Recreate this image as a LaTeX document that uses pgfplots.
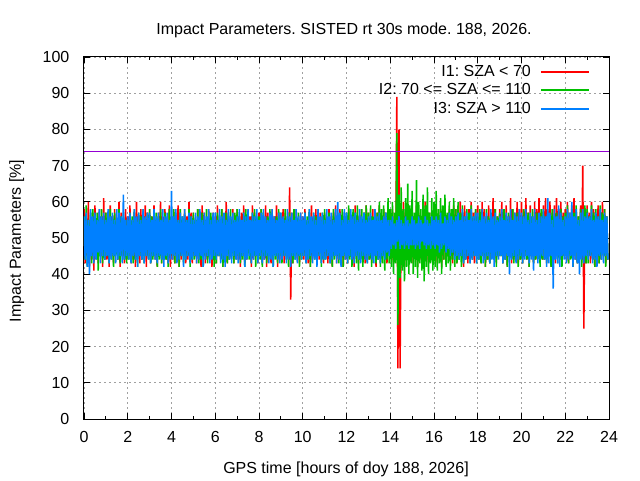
\documentclass[border=0pt]{standalone}
\usepackage{fontspec}
\setmainfont{Liberation Sans}
\usepackage{pgfplots}
\usepackage{pgfplotstable}
\pgfplotsset{compat=1.18}
\definecolor{gpred}{RGB}{255,0,0}
\definecolor{gpgreen}{RGB}{0,192,0}
\definecolor{gpblue}{RGB}{0,128,255}
\definecolor{gpviolet}{RGB}{148,0,211}
\definecolor{gpgrid}{RGB}{160,160,160}

\pgfplotstableread[row sep=\\]{y\\
58\\43\\56\\45\\60\\42\\55\\44\\57\\41\\59\\46\\54\\43\\58\\45\\56\\42\\61\\44\\
57\\44\\55\\42\\59\\45\\56\\43\\58\\46\\55\\44\\60\\42\\57\\45\\54\\43\\58\\44\\
56\\45\\59\\43\\55\\44\\57\\42\\60\\45\\56\\43\\58\\44\\55\\46\\59\\42\\57\\45\\
58\\43\\56\\45\\59\\44\\55\\42\\57\\46\\60\\43\\56\\45\\58\\44\\55\\43\\59\\42\\
55\\44\\58\\43\\56\\45\\59\\42\\57\\44\\55\\46\\58\\43\\56\\44\\60\\45\\57\\43\\
57\\45\\55\\43\\58\\44\\56\\42\\59\\45\\57\\43\\55\\44\\58\\46\\56\\42\\57\\44\\
56\\43\\59\\45\\55\\44\\58\\42\\56\\45\\60\\43\\57\\44\\55\\46\\58\\43\\56\\45\\
58\\44\\56\\42\\57\\45\\59\\43\\55\\44\\58\\46\\56\\42\\59\\44\\57\\45\\55\\43\\
57\\45\\58\\43\\56\\44\\59\\42\\57\\45\\55\\43\\58\\44\\56\\46\\59\\42\\57\\44\\
56\\44\\58\\43\\57\\45\\55\\44\\64\\33\\57\\43\\56\\45\\58\\44\\55\\43\\57\\45\\
56\\44\\58\\45\\55\\43\\57\\42\\59\\44\\56\\45\\58\\43\\55\\44\\57\\46\\56\\43\\
57\\45\\55\\43\\58\\44\\56\\42\\57\\45\\59\\43\\56\\44\\58\\45\\55\\42\\57\\44\\
56\\43\\58\\45\\55\\44\\57\\42\\59\\45\\56\\43\\58\\44\\55\\46\\57\\43\\59\\44\\
57\\44\\55\\43\\58\\45\\56\\42\\57\\44\\59\\43\\56\\45\\58\\44\\57\\43\\55\\45\\
57\\44\\58\\43\\56\\44\\89\\14\\80\\14\\58\\43\\60\\42\\57\\45\\59\\43\\56\\44\\
58\\43\\56\\45\\59\\42\\57\\44\\55\\43\\58\\45\\60\\44\\56\\43\\57\\45\\55\\44\\
57\\44\\59\\43\\56\\45\\58\\42\\57\\44\\60\\43\\56\\45\\58\\44\\57\\43\\59\\45\\
58\\43\\56\\44\\60\\45\\57\\42\\59\\44\\56\\43\\58\\45\\60\\44\\57\\43\\58\\45\\
59\\44\\57\\43\\60\\45\\58\\42\\56\\44\\59\\43\\57\\45\\61\\44\\58\\43\\56\\45\\
58\\45\\60\\43\\57\\44\\59\\42\\56\\45\\61\\43\\58\\44\\57\\46\\60\\43\\58\\44\\
60\\43\\58\\45\\61\\44\\57\\42\\59\\45\\56\\43\\60\\44\\58\\45\\61\\43\\57\\44\\
59\\44\\61\\43\\58\\45\\60\\42\\57\\44\\59\\43\\61\\45\\58\\44\\60\\43\\57\\45\\
58\\44\\60\\43\\57\\45\\59\\42\\61\\44\\58\\43\\56\\45\\59\\44\\70\\25\\58\\43\\
59\\45\\57\\43\\60\\44\\58\\42\\56\\45\\59\\43\\57\\44\\60\\45\\58\\43\\56\\44\\
}\redtab

\pgfplotstableread[row sep=\\]{y\\
56\\44\\59\\42\\55\\45\\57\\43\\58\\46\\55\\44\\57\\41\\56\\45\\58\\43\\55\\44\\
57\\45\\55\\43\\58\\44\\56\\42\\57\\45\\55\\44\\58\\43\\56\\45\\57\\44\\55\\43\\
55\\44\\57\\45\\56\\43\\58\\44\\55\\42\\57\\45\\56\\44\\58\\43\\55\\45\\57\\44\\
58\\43\\56\\44\\55\\45\\57\\42\\56\\44\\58\\43\\55\\45\\57\\44\\56\\42\\58\\45\\
56\\45\\58\\43\\57\\44\\55\\42\\58\\45\\56\\43\\57\\44\\55\\45\\58\\42\\56\\44\\
57\\44\\55\\45\\58\\43\\56\\44\\57\\42\\55\\45\\58\\43\\56\\44\\57\\45\\55\\42\\
55\\43\\57\\45\\56\\44\\58\\42\\55\\45\\57\\43\\56\\44\\58\\45\\55\\43\\57\\44\\
58\\45\\56\\43\\55\\44\\57\\42\\58\\45\\56\\44\\55\\43\\57\\45\\58\\42\\56\\44\\
56\\44\\58\\42\\57\\45\\55\\43\\56\\44\\58\\45\\57\\42\\55\\44\\56\\43\\58\\45\\
57\\43\\55\\45\\58\\44\\56\\42\\57\\45\\55\\43\\58\\44\\56\\45\\57\\42\\55\\44\\
55\\45\\57\\43\\56\\44\\58\\42\\55\\45\\57\\44\\56\\43\\58\\45\\55\\42\\57\\44\\
58\\44\\56\\45\\57\\43\\55\\42\\58\\44\\56\\45\\57\\43\\55\\44\\58\\42\\56\\45\\
57\\43\\59\\44\\56\\42\\58\\45\\57\\43\\59\\41\\56\\44\\58\\42\\57\\45\\59\\43\\
57\\44\\59\\42\\56\\45\\58\\43\\57\\44\\60\\42\\58\\43\\59\\41\\57\\44\\61\\43\\
58\\42\\60\\40\\57\\43\\79\\26\\62\\39\\64\\41\\58\\38\\61\\42\\65\\40\\59\\43\\
63\\40\\57\\42\\66\\39\\60\\43\\58\\41\\62\\38\\59\\42\\64\\40\\57\\43\\61\\41\\
60\\42\\63\\41\\58\\43\\61\\40\\59\\44\\62\\42\\57\\43\\60\\41\\58\\44\\61\\42\\
58\\43\\60\\44\\57\\42\\59\\43\\56\\44\\58\\45\\57\\43\\59\\44\\56\\45\\58\\43\\
56\\44\\58\\43\\57\\45\\55\\42\\58\\44\\56\\43\\57\\45\\55\\44\\58\\42\\56\\45\\
57\\45\\55\\43\\58\\44\\56\\42\\57\\45\\55\\44\\58\\43\\56\\45\\57\\42\\55\\44\\
56\\43\\58\\45\\55\\44\\57\\42\\56\\45\\58\\43\\55\\44\\57\\45\\56\\42\\58\\44\\
58\\44\\56\\43\\57\\45\\55\\42\\58\\44\\56\\45\\57\\43\\55\\44\\58\\42\\56\\45\\
57\\45\\59\\43\\56\\44\\58\\42\\57\\45\\59\\43\\56\\44\\58\\42\\57\\45\\59\\43\\
58\\43\\56\\45\\59\\44\\57\\42\\58\\45\\56\\43\\59\\44\\57\\45\\58\\42\\56\\44\\
}\greentab

\pgfplotstableread[row sep=\\]{y\\
56\\44\\57\\42\\55\\40\\58\\45\\56\\43\\57\\44\\55\\46\\58\\43\\56\\45\\57\\44\\
55\\45\\58\\43\\56\\44\\57\\45\\55\\43\\58\\44\\57\\45\\56\\43\\62\\44\\55\\45\\
56\\44\\57\\43\\55\\45\\58\\44\\56\\42\\57\\45\\55\\44\\58\\43\\56\\45\\57\\44\\
57\\43\\55\\45\\58\\44\\56\\43\\57\\45\\55\\44\\58\\42\\56\\45\\57\\43\\55\\44\\
63\\44\\56\\45\\58\\43\\55\\44\\57\\45\\56\\42\\58\\44\\55\\45\\57\\43\\56\\44\\
55\\45\\57\\43\\56\\44\\58\\45\\55\\42\\57\\44\\56\\45\\58\\43\\55\\44\\57\\45\\
57\\44\\55\\45\\58\\43\\56\\44\\57\\42\\55\\45\\58\\44\\56\\43\\57\\45\\55\\44\\
56\\43\\58\\44\\55\\45\\57\\42\\56\\44\\58\\45\\55\\43\\57\\44\\56\\45\\58\\43\\
55\\45\\57\\43\\58\\44\\56\\45\\55\\43\\57\\44\\58\\42\\56\\45\\55\\44\\57\\43\\
57\\44\\56\\45\\55\\43\\58\\44\\56\\42\\57\\45\\55\\44\\58\\43\\56\\45\\57\\44\\
56\\45\\57\\43\\55\\44\\58\\45\\56\\43\\57\\44\\55\\42\\58\\45\\56\\43\\57\\44\\
55\\44\\58\\45\\56\\43\\57\\44\\55\\45\\58\\43\\60\\44\\57\\42\\55\\45\\58\\44\\
57\\43\\55\\45\\58\\44\\56\\43\\57\\45\\55\\44\\58\\43\\56\\45\\57\\44\\55\\43\\
56\\45\\57\\44\\55\\43\\58\\45\\56\\44\\57\\43\\55\\45\\56\\44\\57\\46\\55\\45\\
55\\47\\56\\48\\54\\47\\55\\49\\56\\47\\55\\48\\54\\47\\56\\48\\55\\47\\54\\48\\
56\\48\\55\\47\\54\\48\\56\\47\\55\\49\\54\\48\\56\\47\\55\\48\\54\\47\\56\\48\\
55\\47\\56\\48\\55\\46\\57\\47\\54\\48\\56\\46\\55\\47\\57\\45\\56\\46\\55\\44\\
56\\45\\57\\44\\55\\45\\58\\43\\56\\44\\57\\45\\55\\43\\58\\44\\56\\45\\57\\43\\
57\\44\\55\\45\\58\\43\\56\\44\\57\\45\\55\\43\\58\\44\\56\\42\\57\\45\\55\\44\\
56\\45\\58\\43\\55\\44\\57\\45\\56\\40\\58\\44\\55\\45\\57\\43\\56\\44\\58\\45\\
57\\43\\56\\44\\58\\45\\55\\43\\57\\44\\56\\41\\58\\45\\55\\43\\57\\44\\56\\45\\
58\\44\\56\\42\\61\\43\\57\\45\\55\\36\\58\\44\\56\\43\\59\\42\\57\\45\\55\\44\\
56\\43\\58\\44\\57\\45\\60\\42\\56\\44\\58\\43\\55\\40\\57\\44\\58\\43\\56\\45\\
57\\44\\56\\45\\58\\43\\55\\44\\57\\42\\56\\45\\58\\44\\55\\43\\57\\45\\56\\44\\
}\bluetab

\begin{document}
\frenchspacing
\begin{tikzpicture}
\begin{axis}[
  at={(0pt,0pt)}, anchor=south west,
  scale only axis, width=525pt, height=362pt,
  xmin=0, xmax=24, ymin=0, ymax=100,
  xtick={0,2,...,24}, minor xtick={1,3,...,23}, ytick={0,10,...,100},
  tick align=inside, major tick length=6pt, minor tick length=3pt,
  tick style={black, line width=0.8pt},
  axis line style={black, line width=1pt},
  grid=major,
  major grid style={gpgrid, dash pattern=on 2pt off 3pt, line width=0.8pt},
  /pgf/number format/assume math mode=true,
  tick label style={font=\fontsize{16}{19}\selectfont},
  xticklabel style={anchor=north, inner sep=0pt, yshift=-12pt},
  yticklabel style={anchor=east, inner sep=0pt, xshift=-14.5pt},
  legend style={draw=none, fill=none, at={(1,1)}, anchor=north east,
    xshift=-16pt, yshift=-5pt, row sep=3.8pt,
    font=\fontsize{16}{19}\selectfont\frenchspacing,
    nodes={inner sep=0pt, text height=12pt, text depth=3pt},
    /tikz/every odd column/.style={column sep=9pt}},
  legend cell align=right,
  legend plot pos=right,
  legend image code/.code={\draw[#1,line width=2pt] (0pt,0pt) -- (48pt,0pt);},
]
\addplot[gpred, line width=1.5pt] table[x expr=\coordindex*0.05, y=y] {\redtab};
\addlegendentry{I1: SZA < 70}
\addplot[gpgreen, line width=1.5pt] table[x expr=\coordindex*0.05, y=y] {\greentab};
\addlegendentry{I2: 70 <= SZA <= 110}
\addplot[gpblue, line width=1.5pt] table[x expr=\coordindex*0.05, y=y] {\bluetab};
\addlegendentry{I3: SZA > 110}
\addplot[gpviolet, line width=1pt, forget plot] coordinates {(0,74) (24,74)};
\end{axis}
\node[font=\fontsize{16}{19}\selectfont, anchor=base] at (260pt,384pt) {Impact Parameters. SISTED rt 30s mode. 188, 2026.};
\node[font=\fontsize{16}{19}\selectfont, anchor=base] at (262pt,-54pt) {GPS time [hours of doy 188, 2026]};
\node[font=\fontsize{16}{19}\selectfont, rotate=90, anchor=base] at (-63pt,178pt) {Impact Parameters [\%]};
\pgfresetboundingbox
\useasboundingbox (-84pt,-61pt) rectangle (556pt,419pt);
\end{tikzpicture}
\end{document}
